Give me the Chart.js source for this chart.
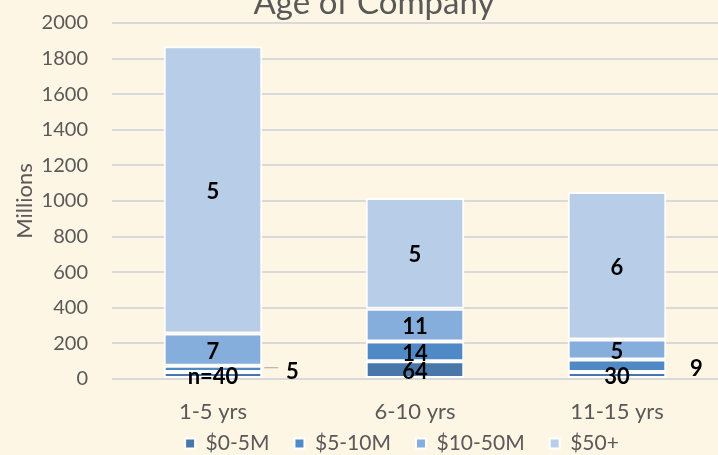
<!DOCTYPE html>
<html lang="en">
<head>
<meta charset="UTF-8" />
<title>Age of Company</title>
<script src="https://cdn.jsdelivr.net/npm/chart.js"></script>
<style>
  html, body { margin: 0; padding: 0; background: #FEF6E4; }
  #wrap { width: 718px; height: 455px; }
</style>
</head>
<body>
<div id="wrap"><canvas id="ageChart" width="718" height="455"></canvas></div>
<script>
  // categories and series (millions)
  const ageGroups = ['1-5 yrs', '6-10 yrs', '11-15 yrs'];
  const rev0to5 = [40, 100, 40];
  const rev5to10 = [35, 110, 70];
  const rev10to50 = [180, 185, 112];
  const rev50plus = [1615, 622, 828];

  // counts shown on the segments
  const count0to5 = ['n=40', '64', '30'];
  const count5to10 = ['5', '14', '9'];
  const count10to50 = ['7', '11', '5'];
  const count50plus = ['5', '5', '6'];

  const seriesNames = ['$0-5M', '$5-10M', '$10-50M', '$50+'];
  const yTicks = [0, 200, 400, 600, 800, 1000, 1200, 1400, 1600, 1800, 2000];

  const fontFamily = 'Lato, "Open Sans", sans-serif';
  const grey = '#595959';

  const ds = (label, data, counts, color) => ({
    label, data, counts,
    backgroundColor: color,
    borderColor: '#ffffff',
    borderWidth: 2,
    borderSkipped: false,
    categoryPercentage: 0.8,
    barPercentage: 0.61
  });

  // labels that Excel pushed outside the bar, with a leader line
  const outside = { '1-0': true, '1-2': true };

  const labelPlugin = {
    id: 'segLabels',
    afterDatasetsDraw(chart) {
      const c = chart.ctx;
      c.save();
      c.font = 'bold 22px ' + fontFamily;
      c.fillStyle = '#000';
      c.textAlign = 'center';
      c.textBaseline = 'middle';
      chart.data.datasets.forEach((d, di) => {
        chart.getDatasetMeta(di).data.forEach((bar, i) => {
          const txt = d.counts[i];
          const midY = (bar.y + bar.base) / 2;
          if (outside[di + '-' + i]) {
            const edge = bar.x + bar.width / 2;
            if (i === 0) {
              c.strokeStyle = '#A6A6A6';
              c.lineWidth = 1;
              c.beginPath();
              c.moveTo(edge + 2, midY - 1);
              c.lineTo(edge + 16, midY - 1);
              c.stroke();
            }
            c.fillText(txt, edge + 30, midY + 3);
          } else {
            c.fillText(txt, bar.x, midY + 2);
          }
        });
      });
      c.restore();
    }
  };

  const titlePlugin = {
    id: 'cutTitle',
    afterDraw(chart) {
      const c = chart.ctx;
      c.save();
      c.font = '33px ' + fontFamily;
      c.fillStyle = grey;
      c.textAlign = 'center';
      c.textBaseline = 'alphabetic';
      c.fillText('Age of Company', 374, 14);
      c.restore();
    }
  };

  const bgPlugin = {
    id: 'bg',
    beforeDraw(chart) {
      const c = chart.ctx;
      c.save();
      c.fillStyle = '#FEF6E4';
      c.fillRect(0, 0, chart.width, chart.height);
      c.restore();
    }
  };

  // keep legend row compact vertically while leaving wide gaps between items
  const legendFit = {
    id: 'legendFit',
    beforeLayout(chart) {
      const lg = chart.legend;
      if (lg && !lg._patched) {
        const fit = lg.fit.bind(lg);
        lg.fit = function () { fit(); this.height = 30; };
        lg._patched = true;
      }
    },
    afterLayout(chart) {
      const lg = chart.legend;
      lg.top -= 17;
      lg.bottom = chart.height;
      lg.left += 34;
      lg.right += 34;
    }
  };

  new Chart(document.getElementById('ageChart'), {
    type: 'bar',
    data: {
      labels: ageGroups,
      datasets: [
        ds(seriesNames[0], rev0to5, count0to5, '#4A77A9'),
        ds(seriesNames[1], rev5to10, count5to10, '#508AC6'),
        ds(seriesNames[2], rev10to50, count10to50, '#85AEDC'),
        ds(seriesNames[3], rev50plus, count50plus, '#B8CDE8')
      ]
    },
    options: {
      responsive: false,
      animation: false,
      layout: { padding: { top: 23, right: -6, left: 12, bottom: 0 } },
      plugins: {
        title: { display: false },
        tooltip: { enabled: false },
        legend: {
          position: 'bottom',
          labels: {
            color: grey,
            font: { family: fontFamily, size: 21 },
            boxWidth: 10,
            boxHeight: 10,
            padding: 25
          }
        }
      },
      scales: {
        x: {
          stacked: true,
          grid: { display: false },
          border: { display: false },
          ticks: { color: grey, font: { family: fontFamily, size: 22 }, padding: 12 },
          afterFit(scale) { scale.height = 46; }
        },
        y: {
          stacked: true,
          min: 0,
          max: 2000,
          afterBuildTicks(axis) { axis.ticks = yTicks.map(v => ({ value: v })); },
          afterFit(scale) {
            scale.width = 100;
            scale.paddingTop = 12;
            scale.paddingBottom = 12;
          },
          grid: { color: '#D9D9D9', lineWidth: 2, drawTicks: false },
          border: { display: false },
          ticks: {
            color: grey,
            font: { family: fontFamily, size: 20 },
            padding: 24,
            callback: v => String(v)
          },
          title: {
            display: true,
            text: 'Millions',
            color: grey,
            font: { family: fontFamily, size: 22 },
            padding: { top: 0, bottom: 2 }
          }
        }
      }
    },
    plugins: [bgPlugin, legendFit, labelPlugin, titlePlugin]
  });
</script>
</body>
</html>
